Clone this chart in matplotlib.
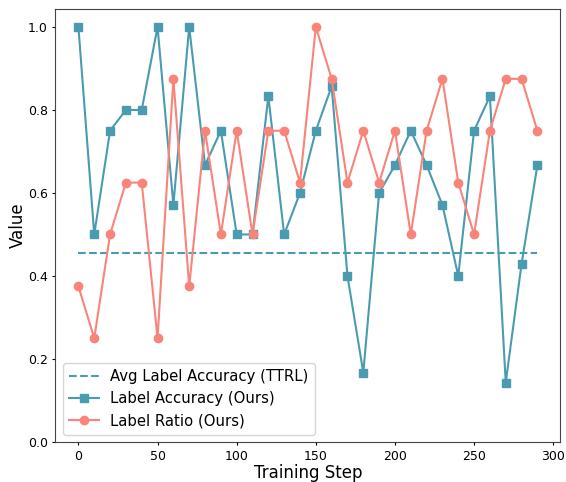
import numpy as np
from matplotlib import pyplot as plt

# dados
passos = list(range(0, 300, 10))
acuracia = [1.0, 0.5, 0.75, 0.8, 0.8, 1.0, 0.571, 1.0, 0.667, 0.75,
            0.5, 0.5, 0.833, 0.5, 0.6, 0.75, 0.857, 0.4, 0.167, 0.6,
            0.667, 0.75, 0.667, 0.571, 0.4, 0.75, 0.833, 0.143, 0.429, 0.667]
razao = [0.375, 0.25, 0.5, 0.625, 0.625, 0.25, 0.875, 0.375, 0.75, 0.5,
         0.75, 0.5, 0.75, 0.75, 0.625, 1.0, 0.875, 0.625, 0.75, 0.625,
         0.75, 0.5, 0.75, 0.875, 0.625, 0.5, 0.75, 0.875, 0.875, 0.75]
media_ttrl = 0.455

cor_azul = "#4a9bb0"
cor_salmao = "#f8847a"

fig, ax = plt.subplots(figsize=(5.66, 4.82), dpi=100)
fig.subplots_adjust(left=0.098, right=0.99, top=0.981, bottom=0.083)

ax.plot([passos[0], passos[-1]], [media_ttrl, media_ttrl], linestyle="--",
        color=cor_azul, linewidth=1.5, label="Avg Label Accuracy (TTRL)")
ax.plot(passos, acuracia, marker="s", markersize=6, color=cor_azul,
        linewidth=1.5, label="Label Accuracy (Ours)")
ax.plot(passos, razao, marker="o", markersize=6, color=cor_salmao,
        linewidth=1.5, label="Label Ratio (Ours)")

ax.set_ylim(bottom=0)
ax.set_xlabel("Training Step", fontsize=12, labelpad=1)
ax.set_ylabel("Value", fontsize=12, labelpad=1)
ax.tick_params(labelsize=9, length=2.5, pad=3)
for s in ax.spines.values():
    s.set_color("#444444")
ax.legend(loc="lower left", fontsize=10.7)

fig.savefig("out.png")
